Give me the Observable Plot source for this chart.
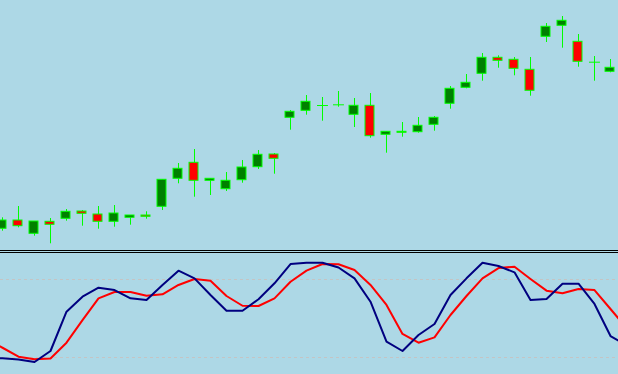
<!DOCTYPE html>
<html>
<head>
<meta charset="utf-8">
<script src="https://cdn.jsdelivr.net/npm/d3@7"></script>
<script src="https://cdn.jsdelivr.net/npm/@observablehq/plot@0.6"></script>
<style>
  html, body { margin: 0; padding: 0; background: #ADD8E6; overflow: hidden; }
  #wrap { width: 618px; height: 374px; }
  #sep { width: 618px; height: 1px; border-top: 1px solid #000; border-bottom: 1px solid #000; }
  svg { display: block; }
</style>
</head>
<body>
<div id="wrap">
  <div id="price"></div>
  <div id="sep"></div>
  <div id="osc"></div>
</div>
<script>
// Candles (bar index, OHLC)
const openP  = [1.30207,1.30300,1.30157,1.30287,1.30307,1.30390,1.30360,1.30277,1.30317,1.30350,
                1.30427,1.30707,1.30877,1.30687,1.30603,1.30693,1.30823,1.30960,1.31317,1.31387,
                1.31450,1.31457,1.31347,1.31447,1.31147,1.31187,1.31173,1.31247,1.31457,1.31617,
                1.31757,1.31927,1.31907,1.31807,1.32127,1.32237,1.32087,1.31883,1.31777];
const highP  = [1.30327,1.30440,1.30290,1.30320,1.30410,1.30400,1.30440,1.30450,1.30350,1.30387,
                1.30707,1.30870,1.31010,1.30717,1.30780,1.30900,1.31000,1.30970,1.31400,1.31550,
                1.31530,1.31590,1.31520,1.31570,1.31187,1.31280,1.31330,1.31340,1.31640,1.31760,
                1.31970,1.31947,1.31930,1.31930,1.32270,1.32340,1.32160,1.31940,1.31910];
const lowP   = [1.30193,1.30227,1.30143,1.30067,1.30293,1.30243,1.30213,1.30233,1.30253,1.30313,
                1.30400,1.30667,1.30533,1.30550,1.30590,1.30673,1.30810,1.30763,1.31203,1.31353,
                1.31293,1.31433,1.31230,1.31123,1.30973,1.31133,1.31173,1.31193,1.31413,1.31617,
                1.31693,1.31823,1.31747,1.31543,1.32080,1.32023,1.31833,1.31693,1.31777];
const closeP = [1.30300,1.30233,1.30290,1.30247,1.30387,1.30357,1.30277,1.30370,1.30350,1.30327,
                1.30707,1.30817,1.30687,1.30717,1.30697,1.30830,1.30957,1.30907,1.31387,1.31487,
                1.31450,1.31457,1.31447,1.31133,1.31187,1.31167,1.31247,1.31327,1.31617,1.31677,
                1.31927,1.31887,1.31807,1.31587,1.32237,1.32297,1.31877,1.31883,1.31827];

// Stochastic oscillator, bars -1 .. 39 (first and last partly off screen)
const stochK = [20.0,19.4,18.5,16.5,25.0,55.2,66.8,73.7,71.9,65.5,64.2,
                75.8,86.8,80.9,68.1,56.0,56.0,64.8,77.1,91.9,92.9,
                92.9,89.2,80.9,62.9,32.2,25.0,37.3,45.8,68.1,80.9,
                92.9,90.4,85.5,64.2,65.0,76.8,76.8,61.2,36.5,29.3];
const stochD = [34.2,27.5,20.6,18.6,19.2,31.4,48.8,65.5,70.4,70.4,67.5,
                68.6,75.8,80.4,79.1,67.3,59.8,59.6,65.5,78.3,86.8,
                91.9,91.7,87.3,75.8,60.4,38.1,31.4,35.5,52.7,67.3,
                80.9,88.8,89.8,80.4,71.4,69.4,72.7,71.9,57.3,42.7];
const levels = [20, 80];

const candles = openP.map((o, i) => ({i, open: o, high: highP[i], low: lowP[i], close: closeP[i]}));
const bodies = candles.filter(d => d.open !== d.close);
const dojis = candles.filter(d => d.open === d.close);
const osc = stochK.map((k, j) => ({i: j - 1, k, d: stochD[j]}));

const half = 0.3125;
const xScale = {domain: [-0.125, 38.5], range: [0, 618], axis: null};

const pricePlot = Plot.plot({
  width: 618, height: 250,
  marginTop: 0, marginBottom: 0, marginLeft: 0, marginRight: 0,
  style: {background: "transparent"},
  x: xScale,
  y: {domain: [1.300, 1.325], range: [250, 0], axis: null},
  marks: [
    Plot.ruleX(candles, {x: "i", y1: "low", y2: "high", stroke: "#00FF00", strokeWidth: 1}),
    Plot.rect(bodies, {
      x1: d => d.i - half, x2: d => d.i + half, y1: "open", y2: "close",
      fill: d => d.close > d.open ? "#008000" : "#FF0000",
      stroke: "#00FF00", strokeWidth: 1,
      insetLeft: 0, insetTop: 0, insetRight: 1, insetBottom: 1
    }),
    Plot.ruleY(dojis, {y: "open", x1: d => d.i - half, x2: d => d.i + half + 0.06, stroke: "#00FF00", strokeWidth: 1})
  ]
});
document.getElementById("price").appendChild(pricePlot);

const oscPlot = Plot.plot({
  width: 618, height: 121,
  marginTop: 0, marginBottom: 0, marginLeft: 0, marginRight: 0,
  style: {background: "transparent"},
  x: xScale,
  y: {domain: [0, 100], range: [130, 0], axis: null},
  marks: [
    Plot.ruleY(levels, {stroke: "#C4C4C4", strokeDasharray: "3,3", strokeWidth: 1}),
    Plot.line(osc, {x: "i", y: "d", stroke: "#FF0000", strokeWidth: 2, clip: true}),
    Plot.line(osc, {x: "i", y: "k", stroke: "#000080", strokeWidth: 2, clip: true})
  ]
});
document.getElementById("osc").appendChild(oscPlot);
</script>
</body>
</html>
